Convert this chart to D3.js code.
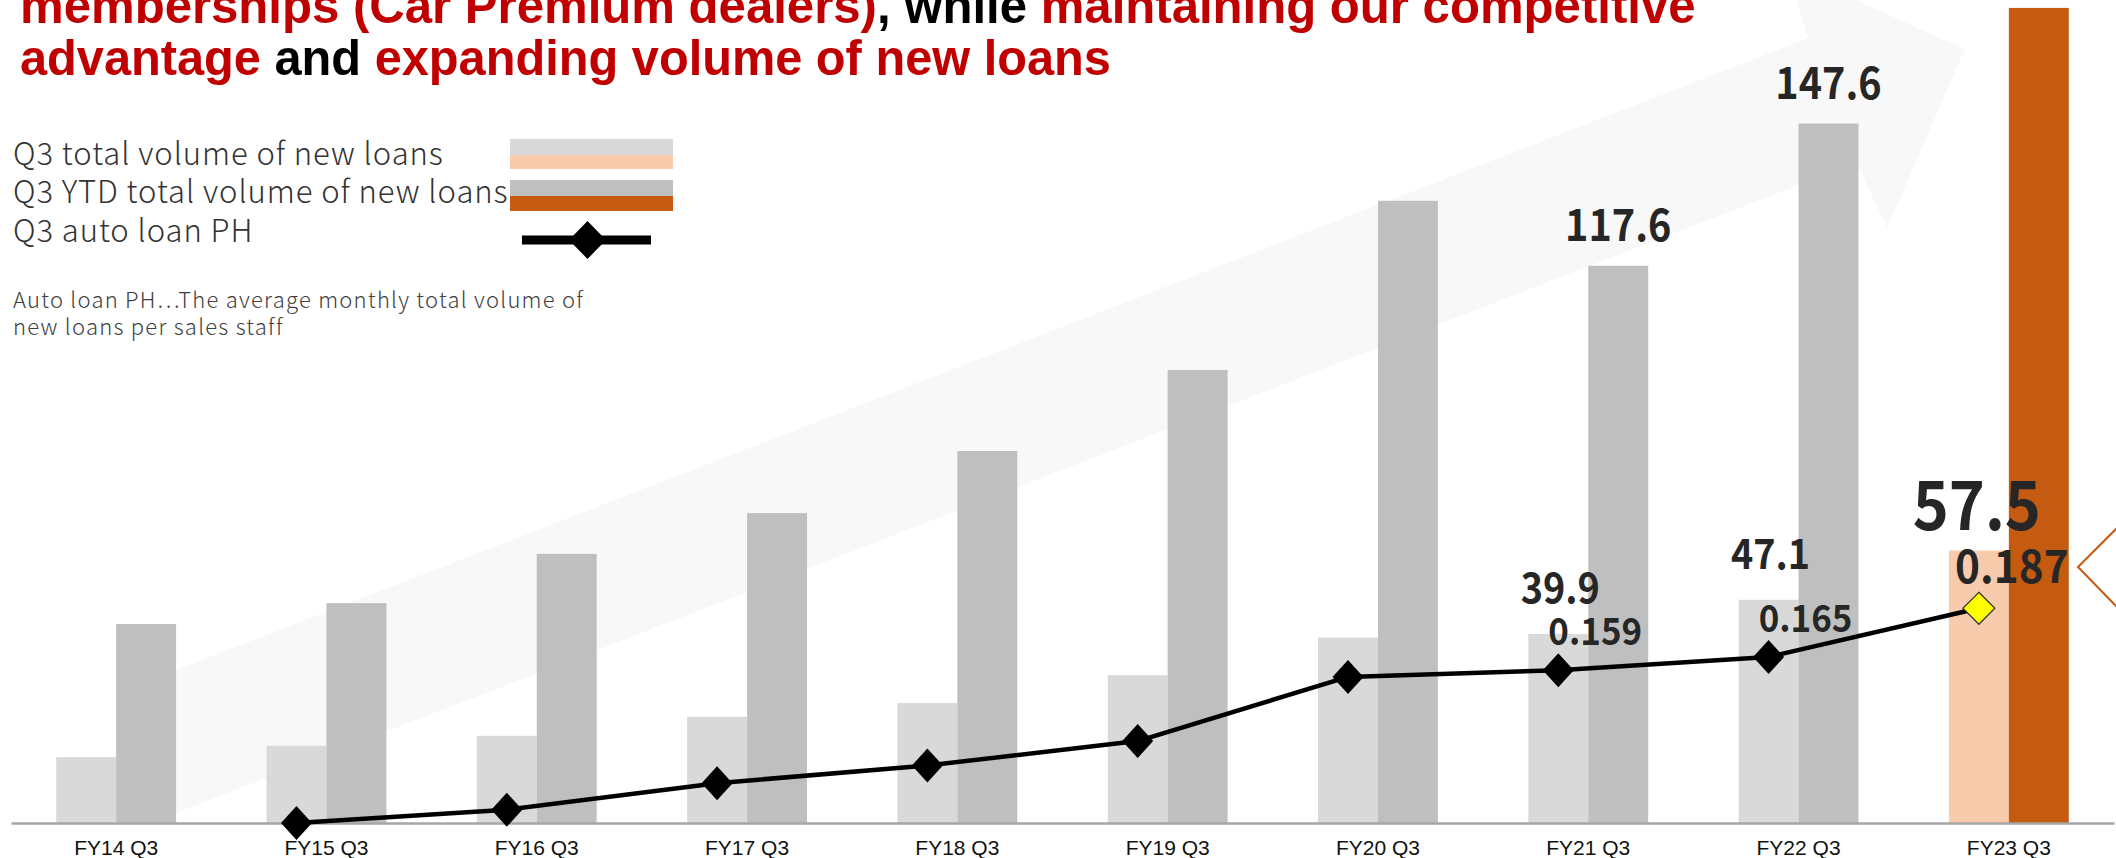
<!DOCTYPE html>
<html>
<head>
<meta charset="utf-8">
<script src="https://cdn.jsdelivr.net/npm/d3@7"></script>
<style>
  html, body { margin: 0; padding: 0; background: #fff; overflow: hidden; }
  svg { display: block; }
</style>
</head>
<body>
<svg id="chart" width="2116" height="858"></svg>
<script>
// ---- data ----
const categories = ["FY14 Q3", "FY15 Q3", "FY16 Q3", "FY17 Q3", "FY18 Q3", "FY19 Q3", "FY20 Q3", "FY21 Q3", "FY22 Q3", "FY23 Q3"];
const q3Volume  = [13.9, 16.3, 18.4, 22.4, 25.3, 31.2, 39.1, 39.9, 47.1, 57.5];
const ytdVolume = [42.0, 46.4, 56.8, 65.4, 78.5, 95.6, 131.3, 117.6, 147.6, 172.0];
const autoLoanPH = [null, 0.090, 0.096, 0.108, 0.116, 0.127, 0.156, 0.159, 0.165, 0.187];
const q3Labelled  = ["FY21 Q3", "FY22 Q3", "FY23 Q3"];
const ytdLabelled = ["FY21 Q3", "FY22 Q3"];
const phLabelled  = ["FY21 Q3", "FY22 Q3", "FY23 Q3"];
const currentYear = "FY23 Q3";
const legendLabels = ["Q3 total volume of new loans", "Q3 YTD total volume of new loans", "Q3 auto loan PH"];
const noteLines = ["Auto loan PH\u22EFThe average monthly total volume of", "new loans per sales staff"];
const titleLines = [
  [["memberships (Car Premium dealers)", "hl"], [", while ", "plain"], ["maintaining our competitive", "hl"]],
  [["advantage", "hl"], [" and ", "plain"], ["expanding volume of new loans", "hl"]]
];

// ---- palette ----
const C = {
  q3: "#d9d9d9", ytd: "#bfbfbf", q3Now: "#f8cbad", ytdNow: "#c55a11",
  text: "#262626", red: "#c00000", arrow: "#f8f8f8", axis: "#a6a6a6"
};

const W = 2116, H = 858, baseY = 823;
const svg = d3.select("#chart");
svg.append("rect").attr("width", W).attr("height", H).attr("fill", "#fff");

// horizontally condense a text element around its x anchor
function condense(sel, sx) {
  sel.attr("transform", function () {
    const ax = +d3.select(this).attr("x");
    return `translate(${ax * (1 - sx)},0) scale(${sx},1)`;
  });
}

// ---- scales ----
const x = d3.scaleBand().domain(categories).range([11, 2114]).paddingInner(0.43).paddingOuter(0.215);
const sub = d3.scaleBand().domain(["q3", "ytd"]).range([0, x.bandwidth()]);
const y = d3.scaleLinear().domain([0, 180]).range([baseY, -30]);
const y2 = d3.scaleLinear().domain([0.09, 0.20]).range([baseY, 579.5]);

const rows = categories.map((c, i) => ({ c, q3: q3Volume[i], ytd: ytdVolume[i], ph: autoLoanPH[i] }));
const phX = c => x(c) + sub("q3") + sub.bandwidth() / 2;

// ---- growth arrow in the background ----
const arrowShape = [[0, -66.7], [1802, -66.7], [1807, -138.6], [1944, 0], [1807, 138.6], [1802, 66.7], [0, 66.7]];
svg.append("g")
  .attr("transform", "translate(151.9,750.8) rotate(-21.16)")
  .append("path")
  .attr("d", d3.line()(arrowShape) + "Z")
  .attr("fill", C.arrow);

// ---- bars ----
const groups = svg.append("g").selectAll("g").data(rows).join("g")
  .attr("transform", d => `translate(${x(d.c)},0)`);
groups.append("rect")
  .attr("x", sub("q3")).attr("width", sub.bandwidth())
  .attr("y", d => y(d.q3)).attr("height", d => y(0) - y(d.q3))
  .attr("fill", d => d.c === currentYear ? C.q3Now : C.q3);
groups.append("rect")
  .attr("x", sub("ytd")).attr("width", sub.bandwidth())
  .attr("y", d => y(d.ytd)).attr("height", d => y(0) - y(d.ytd))
  .attr("fill", d => d.c === currentYear ? C.ytdNow : C.ytd);

// ---- x axis ----
const xAxis = svg.append("g").attr("transform", `translate(0,${baseY})`)
  .call(d3.axisBottom(x).tickSize(0).tickPadding(17));
xAxis.select(".domain").attr("stroke", C.axis).attr("stroke-width", 2.5);
xAxis.selectAll("text")
  .attr("font-family", "'Liberation Sans', Arial, sans-serif")
  .attr("font-size", 21).attr("fill", "#111");

// ---- auto loan PH line ----
const phRows = rows.filter(d => d.ph != null);
svg.append("path")
  .datum(phRows)
  .attr("d", d3.line().x(d => phX(d.c)).y(d => y2(d.ph)))
  .attr("fill", "none").attr("stroke", "#000").attr("stroke-width", 4.5)
  .attr("stroke-linejoin", "round");

const diamond = (hw, hh) => `M0,${-hh}L${hw},0L0,${hh}L${-hw},0Z`;
svg.append("g").selectAll("path").data(phRows).join("path")
  .attr("transform", d => `translate(${phX(d.c)},${y2(d.ph)})`)
  .attr("d", d => d.c === currentYear ? diamond(16, 16) : diamond(15.5, 17))
  .attr("fill", d => d.c === currentYear ? "#ffff00" : "#000")
  .attr("stroke", d => d.c === currentYear ? "#333" : "none")
  .attr("stroke-width", 1.2);

// ---- value labels ----
const valueFont = "'Noto Sans CJK JP', 'Noto Sans', sans-serif";
const labels = svg.append("g")
  .attr("font-family", valueFont).attr("font-weight", 700)
  .attr("fill", C.text).attr("text-anchor", "middle");

labels.selectAll("text.q3").data(rows.filter(d => q3Labelled.includes(d.c))).join("text")
  .attr("class", "q3")
  .attr("x", d => x(d.c) + sub("q3") + sub.bandwidth() / 2 + (d.c === currentYear ? -2 : 2))
  .attr("y", d => y(d.q3) - (d.c === currentYear ? 21 : 31))
  .attr("font-size", d => d.c === currentYear ? 68 : 42)
  .text(d => d3.format(".1f")(d.q3))
  .call(condense, 0.9);

labels.selectAll("text.ytd").data(rows.filter(d => ytdLabelled.includes(d.c))).join("text")
  .attr("class", "ytd")
  .attr("x", d => x(d.c) + sub("ytd") + sub.bandwidth() / 2)
  .attr("y", d => y(d.ytd) - 25)
  .attr("font-size", 44)
  .text(d => d3.format(".1f")(d.ytd))
  .call(condense, 0.9);

labels.selectAll("text.ph").data(rows.filter(d => phLabelled.includes(d.c))).join("text")
  .attr("class", "ph")
  .attr("x", d => phX(d.c) + (d.c === currentYear ? 33 : 37))
  .attr("y", d => y2(d.ph) - 25)
  .attr("font-size", d => d.c === currentYear ? 46 : 38)
  .text(d => d3.format(".3f")(d.ph))
  .call(condense, 0.92);

// ---- callout pointer at the right edge ----
svg.append("path")
  .attr("d", "M2117,528L2078,567L2117,607")
  .attr("fill", "#fff").attr("stroke", C.ytdNow).attr("stroke-width", 2);

// ---- legend ----
const lightFont = "'Noto Sans CJK JP', 'Noto Sans', sans-serif";
const legend = svg.append("g").attr("font-family", lightFont).attr("font-weight", 300).attr("fill", "#333");
const legendBase = [165, 203, 242];
legend.selectAll("text").data(legendLabels).join("text")
  .attr("x", 13).attr("y", (d, i) => legendBase[i])
  .attr("font-size", 31).attr("letter-spacing", 0.95)
  .text(d => d);

const sw = { x: 510, w: 163 };
legend.append("rect").attr("x", sw.x).attr("y", 139).attr("width", sw.w).attr("height", 16).attr("fill", C.q3);
legend.append("rect").attr("x", sw.x).attr("y", 155).attr("width", sw.w).attr("height", 14).attr("fill", C.q3Now);
legend.append("rect").attr("x", sw.x).attr("y", 180).attr("width", sw.w).attr("height", 16).attr("fill", C.ytd);
legend.append("rect").attr("x", sw.x).attr("y", 196).attr("width", sw.w).attr("height", 15).attr("fill", C.ytdNow);
legend.append("line").attr("x1", 522).attr("x2", 651).attr("y1", 240).attr("y2", 240)
  .attr("stroke", "#000").attr("stroke-width", 9);
legend.append("path").attr("transform", "translate(587.5,240)").attr("d", diamond(18.5, 19)).attr("fill", "#000");

const note = svg.append("g").attr("font-family", lightFont).attr("font-weight", 300).attr("fill", "#404040");
note.selectAll("text").data(noteLines).join("text")
  .attr("x", 13).attr("y", (d, i) => 308 + i * 27)
  .attr("font-size", 22).attr("letter-spacing", 1.25)
  .text(d => d);

// ---- headline ----
const titleWidths = [1676, 1091];
const titleBase = [23, 75];
titleLines.forEach((parts, li) => {
  const t = svg.append("text")
    .attr("x", 0).attr("y", 0)
    .attr("font-family", "'Liberation Sans Narrow', 'Liberation Sans', Arial, sans-serif")
    .attr("font-weight", 700).attr("font-size", 50);
  parts.forEach(([s, kind]) => {
    t.append("tspan").attr("fill", kind === "hl" ? C.red : "#000").text(s);
  });
  const natural = t.node().getComputedTextLength();
  t.attr("transform", `translate(20,${titleBase[li]}) scale(${titleWidths[li] / natural},1)`);
});
</script>
</body>
</html>
